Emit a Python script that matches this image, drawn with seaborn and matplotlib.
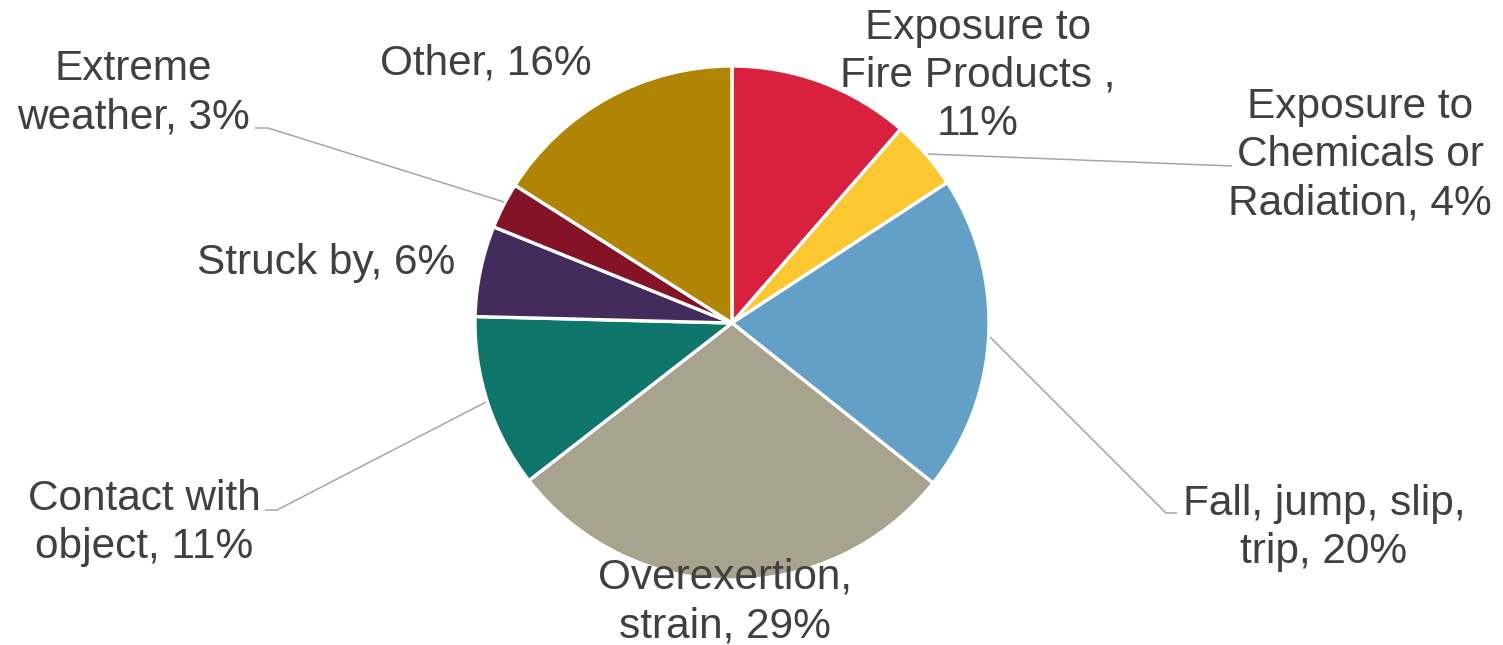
import matplotlib
matplotlib.use("Agg")
import matplotlib.pyplot as plt
import seaborn as sns

categories = ["Exposure to\nFire Products ,", "Exposure to\nChemicals or\nRadiation,", "Fall, jump, slip,\ntrip,",
              "Overexertion,\nstrain,", "Contact with\nobject,", "Struck by,", "Extreme\nweather,", "Other,"]
values = [11.4, 4.4, 19.9, 28.8, 10.9, 5.7, 2.9, 16.0]
pct_labels = ["11%", "4%", "20%", "29%", "11%", "6%", "3%", "16%"]
colors = ["#D9213F", "#FDC82F", "#63A0C8", "#A8A38D", "#0F766B", "#432B5C", "#851328", "#B08503"]

sns.set_theme(style="white")
plt.rcParams['font.family'] = ['Liberation Sans', 'DejaVu Sans']

W, H = 1503, 645
fig = plt.figure(figsize=(W / 100, H / 100), dpi=100)
ax = fig.add_axes([0, 0, 1, 1])
cx, cy, r = 732, H - 323, 257
ax.pie(values, colors=sns.color_palette(colors), startangle=90, counterclock=False,
       center=(cx, cy), radius=r,
       wedgeprops=dict(edgecolor="white", linewidth=2.4))
ax.set_xlim(0, W)
ax.set_ylim(0, H)
ax.set_aspect("auto")
ax.axis("off")

# label positions in pixel coords (from top)
label_pos = [(978, 76), (1360, 155), (1324, 528), (725, 602), (144, 523), (326, 263), (133, 93), (486, 63)]
for cat, pct, (x, y) in zip(categories, pct_labels, label_pos):
    if cat.startswith("Exposure to\nFire"):
        txt = cat + "\n" + pct
    elif cat.endswith(","):
        txt = cat + " " + pct
    else:
        txt = cat + pct
    ax.text(x, H - y, txt, ha="center", va="center", fontsize=30.5, color="#404040",
            linespacing=1.27)

leaders = [
    [(928, 154), (1232, 166)],
    [(990, 337), (1166, 513), (1177, 513)],
    [(486, 402), (277, 510), (265, 510)],
    [(504, 202), (268, 128), (255, 128)],
]
for pts in leaders:
    xs = [p[0] for p in pts]
    ys = [H - p[1] for p in pts]
    ax.plot(xs, ys, color="#A6A6A6", lw=1.1, solid_capstyle="butt")

fig.savefig("out.png", dpi=100)
